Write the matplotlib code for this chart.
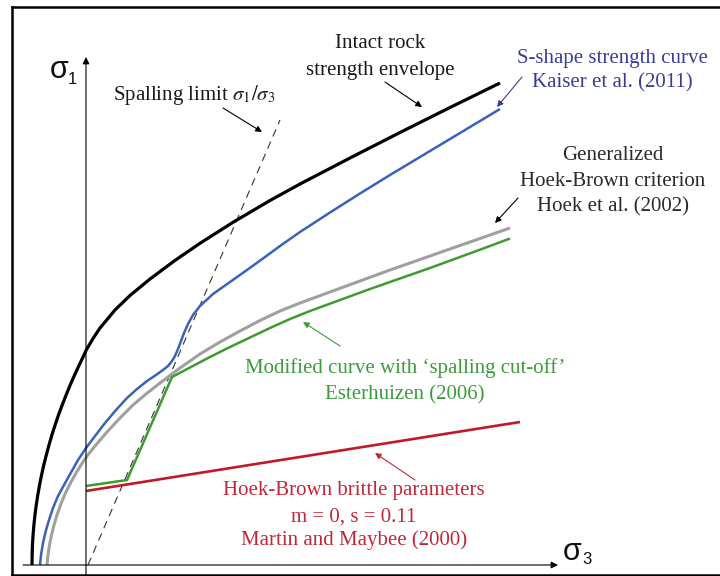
import matplotlib
matplotlib.use("Agg")
import matplotlib.pyplot as plt

plt.rcParams['font.family'] = ['Liberation Serif', 'DejaVu Serif']
plt.rcParams['mathtext.fontset'] = 'stix'

# ---- data (sigma3, sigma1), arbitrary units ----
intact_s3 = [-54, -53.88, -53.53, -52.94, -52.1, -51.05, -49.75, -48.2, -46.45, -44.45, -42.2, -39.7, -37,
             -34.1, -30.9, -27.5, -23.8, -19.9, -15.8, -11.4, -6.8, -2, 0, 7, 14, 29, 44, 64, 89, 114,
             147, 184, 214, 264, 314, 364, 414]
intact_s1 = [0, 10, 20, 30, 40, 50, 60, 70, 80, 90, 100, 110, 120,
             130, 140, 150, 160, 170, 180, 190, 200, 210, 214.5, 226.5, 237, 255, 269.5, 286, 304.6, 321.7,
             342.7, 364.5, 381, 407, 432.5, 457.5, 482]

kaiser_s3 = [-46, -45, -43, -40.5, -37, -33, -28, -22, -15, -8, 0, 9, 19, 30, 41, 51, 61, 70, 77, 82, 86, 89,
             92, 95, 98, 102, 107, 114, 127, 144, 161, 179, 194, 214, 244, 274, 304, 334, 364, 389, 414]
kaiser_s1 = [0, 10, 22, 33, 45, 57, 69, 80, 92.5, 105, 117, 129, 142, 155, 167, 176, 184, 190, 195, 199, 204, 209,
             216, 224, 232, 241, 250, 259, 271, 283, 295, 308, 319, 333, 352.5, 371.5, 390, 408, 426, 441, 456]

ghb_s3 = [-39, -38, -36.5, -34.5, -32, -29, -25.5, -21, -16, -10.5, -5, 1, 9, 21, 34, 47, 60, 74, 94, 114,
          134, 154, 174, 194, 214, 244, 274, 304, 334, 364, 394, 424]
ghb_s1 = [0, 10, 20, 30, 40, 50, 60, 71, 81, 91, 100, 109, 119, 133, 147, 160, 171, 182, 197, 211,
          223, 234, 244.5, 254, 262, 273, 284, 295, 305.5, 316, 326.5, 337]

cutoff_s3 = [0, 41, 86, 104, 124, 144, 164, 184, 204, 224, 254, 284, 314, 344, 374, 404, 424]
cutoff_s1 = [79, 85, 188, 197.5, 208, 218, 227.5, 237, 246, 254, 265, 276, 286.5, 297, 308, 319, 326.5]

brittle_s3 = [0, 434]
brittle_s1 = [74, 143]

spall_s3 = [2, 194]
spall_s1 = [0, 445]

fig = plt.figure(figsize=(7.2, 5.76), dpi=100)
ax = fig.add_axes([12 / 720, 1 / 576, 708 / 720, 568 / 576])
ax.set_xlim(-74, 634)
ax.set_ylim(-10, 558)
ax.set_xticks([])
ax.set_yticks([])
for side in ['left', 'top', 'bottom']:
    ax.spines[side].set_linewidth(1.8)
    ax.spines[side].set_color('black')
ax.spines['right'].set_visible(False)

# axes arrows
ax.annotate('', xy=(0, 508), xytext=(0, -10),
            arrowprops=dict(arrowstyle='-|>', lw=0.8, color='black',
                            mutation_scale=10, shrinkA=0, shrinkB=0))
ax.annotate('', xy=(472, 0), xytext=(-63, 0),
            arrowprops=dict(arrowstyle='-|>', lw=0.8, color='black',
                            mutation_scale=10, shrinkA=0, shrinkB=0))
ax.text(-27, 495, '\u03c3', fontsize=22, ha='center', va='center',
        family='Liberation Sans', color='#111111')
ax.text(-14, 486, '1', fontsize=12, ha='center', va='center',
        family='Liberation Sans', color='#111111')
ax.text(486, 13, '\u03c3', fontsize=22, ha='center', va='center',
        family='Liberation Sans', color='#111111')
ax.text(501, 5, '3', fontsize=12, ha='center', va='center',
        family='Liberation Sans', color='#111111')

# curves
kw = dict(solid_capstyle='butt', solid_joinstyle='round')
ax.plot(spall_s3, spall_s1, color='#333333', lw=0.8, dashes=(7, 5))
ax.plot(brittle_s3, brittle_s1, color='#c01a2a', lw=1.9, **kw)
ax.plot(ghb_s3, ghb_s1, color='#a0a0a0', lw=2.2, **kw)
ax.plot(cutoff_s3, cutoff_s1, color='#3c9c2c', lw=1.8, **kw)
ax.plot(kaiser_s3, kaiser_s1, color='#3a62b8', lw=1.8, **kw)
ax.plot(intact_s3, intact_s1, color='black', lw=2.3, **kw)

fs = 15


def arrow(x0, y0, x1, y1, color):
    ax.annotate('', xy=(x1, y1), xytext=(x0, y0),
                arrowprops=dict(arrowstyle='-|>', lw=0.8, color=color,
                                mutation_scale=9, shrinkA=0, shrinkB=0))


def lines(x, ys, texts, color, ha='center'):
    for y, t in zip(ys, texts):
        ax.text(x, y, t, fontsize=fs, ha=ha, va='center', color=color)


# labels
lines(294, [521, 495], ['Intact rock', 'strength envelope'], '#1a1a1a')
arrow(299, 483, 336, 458, 'black')

lines(27, [470], [r'Spalling limit $\sigma_1/\sigma_3$'], '#1a1a1a', ha='left')
arrow(137, 457, 176, 433, 'black')

lines(526, [507, 482], ['S-shape strength curve', 'Kaiser et al. (2011)'], '#3c3c96')
arrow(436, 488, 411, 458, '#3c3c96')

lines(527, [410, 384, 358], ['Generalized', 'Hoek-Brown criterion', 'Hoek et al. (2002)'], '#2a2a2a')
arrow(432, 367, 409, 342, 'black')

lines(319, [197, 170], ['Modified curve with \u2018spalling cut-off\u2019', 'Esterhuizen (2006)'], '#3c9c3c')
arrow(254, 219, 217, 243, '#3c9c3c')

lines(268, [75, 48, 25], ['Hoek-Brown brittle parameters', 'm = 0, s = 0.11', 'Martin and Maybee (2000)'],
      '#c0283a')
arrow(329, 85, 289, 112, '#c0283a')

fig.savefig('out.png', dpi=100)
